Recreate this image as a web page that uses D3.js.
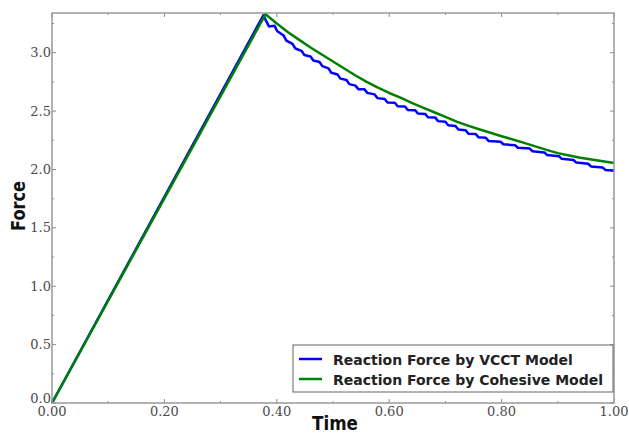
<!DOCTYPE html>
<html>
<head>
<meta charset="utf-8">
<script src="https://cdn.jsdelivr.net/npm/d3@7"></script>
<style>
  body { margin: 0; background: #fff; }
  .tick-label { font-family: "DejaVu Serif", serif; font-size: 13px; fill: #4a4a4a; }
  .axis-label { font-family: "DejaVu Sans", sans-serif; font-weight: bold; font-size: 19px; fill: #111; }
  .legend-text { font-family: "DejaVu Sans", sans-serif; font-weight: bold; font-size: 14px; fill: #222; }
</style>
</head>
<body>
<div id="chart"></div>
<script>
// blue curve (stepwise crack growth)
const vcctTime = [0, 0.376, 0.386, 0.396, 0.401, 0.412, 0.417, 0.428, 0.433, 0.444, 0.449,
  0.460, 0.465, 0.476, 0.481, 0.492, 0.497, 0.508, 0.513, 0.524, 0.529, 0.540, 0.545,
  0.556, 0.561, 0.574, 0.579, 0.592, 0.597, 0.610, 0.615, 0.628, 0.633, 0.646, 0.651,
  0.664, 0.669, 0.682, 0.687, 0.700, 0.705, 0.718, 0.723, 0.736, 0.741, 0.754, 0.759,
  0.772, 0.777, 0.798, 0.803, 0.824, 0.829, 0.850, 0.855, 0.876, 0.881, 0.902, 0.907,
  0.928, 0.933, 0.954, 0.959, 0.980, 0.985, 1.0];
const vcctForce = [0, 3.32, 3.225, 3.230, 3.183, 3.148, 3.103, 3.076, 3.036, 3.016, 2.981,
  2.968, 2.933, 2.920, 2.885, 2.866, 2.828, 2.814, 2.778, 2.766, 2.731, 2.718, 2.688,
  2.686, 2.656, 2.643, 2.611, 2.604, 2.574, 2.571, 2.542, 2.539, 2.510, 2.508, 2.479,
  2.476, 2.447, 2.444, 2.414, 2.408, 2.378, 2.372, 2.342, 2.336, 2.306, 2.304, 2.275,
  2.272, 2.243, 2.238, 2.216, 2.207, 2.186, 2.179, 2.156, 2.146, 2.124, 2.114, 2.091,
  2.081, 2.059, 2.049, 2.026, 2.016, 1.996, 1.99];

// green curve
const cohesiveTime = [0, 0.38, 0.40, 0.42, 0.44, 0.46, 0.48, 0.50, 0.52, 0.54, 0.56, 0.58,
  0.60, 0.62, 0.64, 0.66, 0.68, 0.70, 0.72, 0.74, 0.76, 0.78, 0.80, 0.82, 0.84, 0.86,
  0.88, 0.90, 0.92, 0.94, 0.96, 0.98, 1.0];
const cohesiveForce = [0, 3.33, 3.25, 3.175, 3.11, 3.045, 2.985, 2.925, 2.865, 2.805, 2.75,
  2.70, 2.655, 2.615, 2.57, 2.53, 2.49, 2.45, 2.41, 2.375, 2.345, 2.315, 2.285, 2.257,
  2.228, 2.198, 2.168, 2.14, 2.12, 2.10, 2.085, 2.07, 2.055];

const seriesNames = ["Reaction Force by VCCT Model", "Reaction Force by Cohesive Model"];
const seriesColors = ["#0000ff", "#008000"];

const xTicks = [0, 0.2, 0.4, 0.6, 0.8, 1.0];
const xMinor = [0.1, 0.3, 0.5, 0.7, 0.9];
const yTicks = [0, 0.5, 1.0, 1.5, 2.0, 2.5, 3.0];
const yMinor = [0.25, 0.75, 1.25, 1.75, 2.25, 2.75, 3.25];

const width = 629,
  height = 434,
  margin = { top: 13, bottom: 31, left: 52, right: 15 };

const svg = d3.select("#chart")
  .append("svg")
  .attr("width", width)
  .attr("height", height);

const xScale = d3.scaleLinear()
  .domain([0, 1])
  .range([margin.left, width - margin.right]);

const yScale = d3.scaleLinear()
  .domain([0, 3.34])
  .range([height - margin.bottom, margin.top]);

const x0 = margin.left, x1 = width - margin.right;
const y0 = height - margin.bottom, y1 = margin.top;

// ticks point inward on all four sides
function tickMarks(g, vals, len, horizontal) {
  vals.forEach(v => {
    if (horizontal) {
      const x = xScale(v);
      g.append("line").attr("x1", x).attr("x2", x).attr("y1", y0).attr("y2", y0 - len);
      g.append("line").attr("x1", x).attr("x2", x).attr("y1", y1).attr("y2", y1 + len);
    } else {
      const y = yScale(v);
      g.append("line").attr("y1", y).attr("y2", y).attr("x1", x0).attr("x2", x0 + len);
      g.append("line").attr("y1", y).attr("y2", y).attr("x1", x1).attr("x2", x1 - len);
    }
  });
}

const tickG = svg.append("g").attr("stroke", "#888").attr("stroke-width", 1);
tickMarks(tickG, xTicks, 4, true);
tickMarks(tickG, xMinor, 2, true);
tickMarks(tickG, yTicks, 4, false);
tickMarks(tickG, yMinor, 2, false);

// lines
const line = d3.line()
  .x(d => xScale(d[0]))
  .y(d => yScale(d[1]));

const vcct = vcctTime.map((t, i) => [t, vcctForce[i]]);
const cohesive = cohesiveTime.map((t, i) => [t, cohesiveForce[i]]);

svg.append("path")
  .datum(vcct)
  .attr("fill", "none")
  .attr("stroke", seriesColors[0])
  .attr("stroke-width", 2.5)
  .attr("stroke-linejoin", "round")
  .attr("d", line);

svg.append("path")
  .datum(cohesive)
  .attr("fill", "none")
  .attr("stroke", seriesColors[1])
  .attr("stroke-width", 2.5)
  .attr("stroke-linejoin", "round")
  .attr("d", line);

// frame
svg.append("rect")
  .attr("x", x0)
  .attr("y", y1)
  .attr("width", x1 - x0)
  .attr("height", y0 - y1)
  .attr("fill", "none")
  .attr("stroke", "#999")
  .attr("stroke-width", 1.5);

// tick labels
svg.append("g")
  .selectAll("text")
  .data(xTicks)
  .join("text")
  .attr("class", "tick-label")
  .attr("text-anchor", "middle")
  .attr("x", d => xScale(d))
  .attr("y", y0 + 13)
  .text(d => d.toFixed(2));

svg.append("g")
  .selectAll("text")
  .data(yTicks)
  .join("text")
  .attr("class", "tick-label")
  .attr("text-anchor", "end")
  .attr("x", x0 - 1)
  .attr("y", d => yScale(d) + (d === 0 ? 0 : 4.5))
  .text(d => d.toFixed(1));

// axis titles
svg.append("text")
  .attr("class", "axis-label")
  .attr("text-anchor", "middle")
  .attr("transform", `translate(${(x0 + x1) / 2 + 2},${height - 4}) scale(0.88,1)`)
  .text("Time");

svg.append("text")
  .attr("class", "axis-label")
  .attr("text-anchor", "middle")
  .attr("transform", `translate(25,${(y0 + y1) / 2 - 2}) rotate(-90) scale(0.85,1)`)
  .text("Force");

// legend
const legend = svg.append("g").attr("transform", "translate(293,345)");
legend.append("rect")
  .attr("width", 320)
  .attr("height", 47)
  .attr("fill", "#fff")
  .attr("stroke", "#666")
  .attr("stroke-width", 1);

seriesNames.forEach((name, i) => {
  const ly = 14 + i * 20;
  legend.append("line")
    .attr("x1", 6).attr("x2", 29)
    .attr("y1", ly).attr("y2", ly)
    .attr("stroke", seriesColors[i])
    .attr("stroke-width", 2.5);
  legend.append("text")
    .attr("class", "legend-text")
    .attr("x", 40)
    .attr("y", ly + 5.5)
    .text(name);
});
</script>
</body>
</html>
